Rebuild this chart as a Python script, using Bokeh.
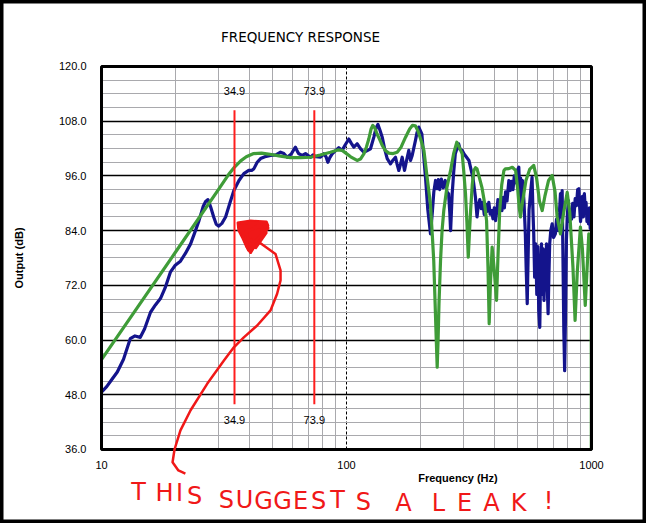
from bokeh.plotting import figure
from bokeh.models import (Range1d, FixedTicker, NumeralTickFormatter, Label, LogAxis,
                          LinearAxis, Grid)
from bokeh.core.properties import value
from bokeh.embed import file_html
from bokeh.resources import INLINE

# ---------------- data ----------------
blue_freq = [10.0, 10.5, 11.0, 11.6, 12.3, 13.1, 13.7, 14.4, 15.0, 15.85, 16.6, 17.4, 18.2, 19.1, 20.0,
             21.0, 22.0, 23.1, 24.0, 25.0, 26.0, 26.6, 27.2, 27.9, 28.7, 29.4, 30.1, 31.0, 32.1, 33.4,
             34.7, 36.4, 38.1, 39.9, 41.0, 41.9, 43.2, 44.6, 47.0, 49.0, 51.5, 53.8, 55.5, 57.3, 59.5,
             61.0, 61.9, 63.0, 63.9, 66.0, 68.0, 71.3, 73.0, 75.0, 78.3, 80.8, 82.5, 83.9, 85.5, 87.4,
             90.0, 93.0, 96.0, 99.0, 102.2, 104.5, 107.1, 110.5, 114.0, 117.7, 121.0, 125.3, 129.3, 132.0,
             134.3, 137.0, 139.9, 143.0, 146.6, 151.2, 155.0, 158.5, 161.0, 163.5, 166.0, 168.8, 172.5,
             176.0, 179.6, 182.5, 185.4, 188.0, 191.2, 194.0, 197.2, 203.0, 206.5, 210.1, 214.7, 220.2,
             224.0, 227.2, 230.9, 234.0, 237.0, 240.0, 244.0, 248.0, 253.0, 257.0, 261.0, 264.0, 266.0,
             268.0, 270.0, 274.0, 278.0, 283.0, 287.0, 291.0, 296.7, 302.0, 308.0, 316.0, 322.0, 328.0,
             336.0, 341.0, 345.0, 350.0, 355.0, 360.0, 365.0, 370.0, 375.0, 381.0, 386.0, 391.0, 396.0,
             401.0, 406.0, 411.0, 415.0, 420.0, 425.0, 431.0, 436.0, 441.0, 446.0, 452.0, 460.0, 466.0,
             472.0, 478.0, 484.0, 490.0, 496.0, 505.0, 510.0, 514.0, 518.0, 523.0, 530.0, 537.0, 541.0,
             546.6, 551.0, 556.0, 565.0, 572.0, 577.0, 581.0, 586.0, 592.0, 598.0, 604.0, 609.0, 615.0,
             620.0, 625.0, 630.0, 635.0, 640.0, 645.0, 650.0, 655.0, 661.0, 665.0, 670.0, 675.0, 682.0,
             691.0, 700.0, 712.0, 720.0, 730.0, 740.0, 747.0, 753.0, 759.0, 764.0, 771.0, 777.0, 783.0,
             790.0, 796.0, 805.0, 812.0, 820.0, 829.0, 838.0, 848.0, 858.0, 868.0, 878.0, 888.0, 895.0,
             902.0, 910.0, 918.0, 926.0, 935.0, 943.0, 950.0, 958.0, 965.0, 972.0, 980.0, 988.0, 995.0,
             1000.0]
blue_db = [48.6, 49.8, 51.3, 53.0, 55.8, 60.3, 60.9, 60.6, 62.5, 66.1, 67.7, 69.1, 71.5, 74.9, 76.4,
           77.3, 79.0, 81.1, 83.5, 86.2, 89.3, 90.4, 90.8, 89.2, 87.0, 85.4, 85.0, 85.6, 87.0, 90.0,
           92.8, 95.0, 96.5, 97.2, 97.2, 97.6, 99.0, 99.8, 100.3, 100.5, 100.6, 101.2, 100.9, 100.1, 100.8,
           101.8, 102.3, 101.4, 100.85, 100.5, 100.9, 100.1, 100.6, 100.2, 100.1, 100.85, 100.2, 99.0, 100.0, 100.85,
           101.5, 102.2, 101.6, 102.9, 104.1, 103.2, 102.3, 103.05, 102.0, 101.2, 101.5, 101.95, 104.5, 106.5,
           107.3, 106.0, 104.5, 102.0, 99.8, 98.65, 99.5, 100.1, 98.5, 97.2, 98.5, 100.1, 97.2,
           99.5, 101.6, 99.4, 100.5, 102.0, 103.8, 105.5, 106.7, 105.2, 100.5, 95.7, 88.6, 83.3,
           88.0, 92.5, 95.0, 93.2, 95.2, 93.0, 95.3, 93.4, 95.0, 92.5, 92.1, 88.0, 84.0,
           88.0, 92.1, 97.0, 100.85, 102.2, 103.05, 101.8, 101.6, 100.8, 100.2, 99.4, 97.5, 95.7,
           91.3, 87.0, 89.5, 90.8, 88.8, 90.2, 87.5, 89.8, 88.2, 90.2, 87.6, 88.4, 86.6,
           89.0, 86.2, 88.5, 90.8, 88.4, 90.5, 88.4, 91.3, 89.0, 92.5, 90.5, 95.0, 92.8,
           94.8, 93.0, 96.0, 94.5, 97.0, 97.9, 91.0, 95.5, 89.9, 95.0, 90.5, 83.3, 76.0,
           68.0, 78.0, 88.5, 92.8, 95.7, 88.0, 83.3, 73.8, 81.1, 70.0, 80.5, 66.5, 62.8,
           75.0, 81.1, 70.0, 80.0, 68.7, 79.0, 71.0, 81.1, 70.5, 65.8, 74.0, 81.1, 84.0,
           85.5, 82.5, 83.3, 86.5, 84.0, 88.0, 92.1, 87.0, 92.8, 80.0, 62.0, 53.3, 65.0,
           82.0, 87.0, 90.6, 86.0, 88.5, 86.5, 90.0, 87.0, 91.0, 89.5, 93.0, 93.2, 89.0,
           86.0, 88.4, 91.5, 87.0, 92.1, 89.0, 90.2, 86.0, 88.0, 85.5, 89.0, 84.5, 87.0,
           86.0]

green_freq = [10.0, 20.0, 30.0, 33.0, 35.0, 37.0, 39.0, 41.8, 45.0, 48.0, 53.0, 59.0, 65.0, 71.3, 78.0,
              86.0, 92.0, 96.0, 100.0, 104.0, 110.5, 114.0, 117.7, 120.5, 123.3, 126.0, 128.1, 130.5,
              133.3, 136.5, 139.9, 144.0, 148.9, 155.0, 161.0, 167.0, 174.2, 181.0, 186.0, 191.0, 196.0,
              201.0, 207.0, 213.0, 220.0, 224.0, 227.0, 230.0, 232.5, 234.5, 236.5, 238.5, 242.0, 245.5,
              249.5, 257.0, 266.0, 274.0, 282.0, 289.0, 296.7, 301.0, 306.0, 310.0, 314.0, 317.5, 321.0,
              326.0, 331.0, 336.0, 341.0, 349.0, 357.0, 365.0, 373.0, 378.0, 382.3, 386.5, 393.0, 400.0,
              409.5, 415.0, 422.0, 430.0, 439.0, 445.0, 460.0, 475.0, 490.0, 500.0, 507.0, 513.0, 522.0,
              540.0, 560.0, 581.0, 597.0, 613.0, 629.0, 645.0, 668.0, 691.0, 710.0, 724.0, 747.0, 770.0,
              796.0, 815.0, 840.0, 857.0, 875.0, 901.0, 918.0, 943.0, 960.0, 975.0, 990.0, 997.0, 998.5]
green_db = [55.7, 79.2, 93.0, 96.3, 98.0, 99.3, 100.2, 100.9, 101.0, 100.8, 100.4, 100.0, 100.0, 100.1, 100.6,
            101.2, 101.7, 101.6, 100.9, 100.2, 99.4, 99.7, 100.85, 102.3, 104.1, 106.3, 107.1, 106.5,
            105.2, 104.0, 102.7, 101.6, 101.0, 100.9, 101.2, 102.3, 104.5, 106.3, 107.1, 107.0, 105.8,
            104.0, 101.6, 96.0, 89.9, 83.0, 77.45, 68.0, 60.0, 54.05, 60.0, 68.0, 77.45, 84.0,
            88.4, 93.5, 97.2, 101.0, 103.4, 102.2, 100.85, 97.0, 92.1, 86.0, 78.2, 83.5, 88.4,
            94.0, 97.2, 97.8, 97.55, 95.5, 93.5, 90.5, 86.2, 76.0, 63.6, 72.0, 80.4, 76.0,
            68.7, 78.0, 88.4, 94.0, 97.2, 97.55, 97.6, 97.9, 97.2, 93.0, 89.0, 87.0, 90.0,
            95.0, 97.5, 98.3, 95.5, 90.5, 88.4, 91.5, 95.0, 96.1, 92.5, 87.0, 83.3, 88.0,
            92.4, 88.0, 76.0, 64.3, 75.0, 84.8, 80.0, 67.6, 76.0, 83.3, 82.5, 80.0, 36.0]

marker_freqs = [34.9, 73.9]
marker_texts = ["34.9", "73.9"]

y_ticks = [36, 48, 60, 72, 84, 96, 108, 120]
y_minor = [v for v in range(39, 120, 3) if v % 12 != 0]
x_ticks = [10, 100, 1000]
x_minor = [20, 30, 40, 50, 60, 70, 80, 90, 200, 300, 400, 500, 600, 700, 800, 900]

# hand-drawn annotation (freq, dB)
blob_freq = [35.9, 40.6, 47.2, 48.0, 45.4, 42.5, 40.6, 39.1, 37.6, 36.2]
blob_db = [85.8, 86.2, 86.0, 85.1, 82.9, 80.75, 79.0, 80.3, 82.3, 84.0]
scrib_freq = [36.9, 46.7, 48.0, 40.6, 38.7, 45.4, 44.6, 39.8, 37.6, 43.7, 47.2, 42.5, 40.6]
scrib_db = [85.6, 85.8, 84.5, 80.75, 84.0, 84.9, 81.85, 79.6, 82.9, 85.35, 83.6, 80.1, 82.3]
curve_freq = [43.85, 51.3, 53.8, 53.8, 52.1, 48.96, 43.2, 38.1, 34.7, 31.6, 27.0, 23.1, 21.0,
              19.86, 19.5, 20.6, 22.0]
curve_db = [81.5, 78.9, 75.3, 73.1, 70.15, 66.5, 63.2, 60.6, 58.4, 55.5, 50.4, 44.6, 40.2,
            36.0, 33.2, 31.4, 30.7]

note_letters = ["T", "H", "I", "S", "S", "U", "G", "G", "E", "S", "T", "S",
                "A", "L", "E", "A", "K", "!"]
note_freqs = [14.16, 18.07, 20.82, 23.97, 32.37, 38.34, 45.84, 54.81, 64.91, 76.87, 91.9, 117.3,
              170.9, 237.5, 303.1, 390.8, 503.6, 667.5]
note_db = [26.6, 26.35, 26.35, 25.9, 25.0, 25.0, 24.8, 24.8, 24.8, 24.8, 25.0, 24.4,
           24.2, 24.2, 24.2, 24.2, 24.2, 24.8]

# ---------------- figure (frame covers the whole canvas) ----------------
x_lo, x_hi = 3.8703, 1676.8
y_lo, y_hi = 19.77, 134.475

p = figure(width=646, height=523, x_axis_type="log",
           x_range=Range1d(x_lo, x_hi), y_range=Range1d(y_lo, y_hi),
           x_axis_location=None, y_axis_location=None,
           output_backend="svg", toolbar_location=None, title=None,
           min_border=0, min_border_left=0, min_border_right=0,
           min_border_top=0, min_border_bottom=0)
p.xgrid.visible = False
p.ygrid.visible = False
p.background_fill_color = "white"
p.border_fill_color = "white"
p.outline_line_color = "black"
p.outline_line_width = 6

xt = FixedTicker(ticks=x_ticks, minor_ticks=x_minor)
yt = FixedTicker(ticks=y_ticks, minor_ticks=y_minor)

gx = Grid(dimension=0, ticker=xt, bounds=(10, 1000), cross_bounds=(36, 120),
          grid_line_color="black", grid_line_dash="3 2", grid_line_width=1,
          minor_grid_line_color="#a9a9ad", minor_grid_line_width=1)
gy = Grid(dimension=1, ticker=yt, bounds=(36, 120), cross_bounds=(10, 1000),
          grid_line_color="black", grid_line_width=1.6,
          minor_grid_line_color="#a9a9ad", minor_grid_line_width=1)
p.add_layout(gx)
p.add_layout(gy)

xaxis = LogAxis(fixed_location=36, ticker=xt, bounds=(10, 1000),
                formatter=NumeralTickFormatter(format="0"))
yaxis = LinearAxis(fixed_location=10, ticker=yt, bounds=(36, 120),
                   formatter=NumeralTickFormatter(format="0.0"),
                   axis_label="Output (dB)")
for ax in (xaxis, yaxis):
    ax.axis_line_color = None
    ax.major_tick_line_color = None
    ax.minor_tick_line_color = None
    ax.major_label_text_font = "Liberation Sans"
    ax.major_label_text_font_size = "11px"
    ax.major_label_text_color = "black"
xaxis.major_label_standoff = 6
yaxis.major_label_standoff = 9
yaxis.axis_label_text_font = "Liberation Sans"
yaxis.axis_label_text_font_style = "bold"
yaxis.axis_label_text_font_size = "11px"
yaxis.axis_label_text_color = "black"
yaxis.axis_label_standoff = 31
p.add_layout(xaxis, "below")
p.add_layout(yaxis, "left")

# curves
p.line(blue_freq, blue_db, line_color="#14148c", line_width=3.2, line_join="round")
p.line(green_freq, green_db, line_color="#3f9c38", line_width=3.2, line_join="round")

# plot-area border
p.quad(left=[10], right=[1000], bottom=[36], top=[120], fill_color=None,
       line_color="black", line_width=3)

# markers
p.segment(x0=marker_freqs, y0=[110.4] * 2, x1=marker_freqs, y1=[45.9] * 2,
          line_color="#ff1e1e", line_width=2)
p.text(x=marker_freqs + marker_freqs, y=[114.7, 114.7, 42.4, 42.4],
       text=marker_texts + marker_texts, text_align="center", text_baseline="middle",
       text_font=value("Liberation Sans"), text_font_size="11px", text_color="black")

# hand-drawn annotation
red = "#f01818"
p.patch(blob_freq, blob_db, fill_color=red, line_color=red, line_width=2)
p.line(scrib_freq, scrib_db, line_color=red, line_width=2.5)
p.line(curve_freq, curve_db, line_color=red, line_width=2.5, line_join="round")
p.text(x=note_freqs, y=note_db, text=note_letters, text_align="center", text_baseline="middle",
       text_font=value("DejaVu Sans"), text_font_size="24px", text_color=red)

p.add_layout(Label(x=64.91, y=126.43, text="FREQUENCY RESPONSE", text_align="center",
                   text_baseline="middle", text_font="DejaVu Sans", text_font_size="13.5px",
                   text_color="black"))
p.add_layout(Label(x=285.1, y=29.64, text="Frequency (Hz)", text_align="center",
                   text_baseline="middle", text_font="Liberation Sans", text_font_size="11px",
                   text_font_style="bold", text_color="black"))

open("out.html", "w").write(file_html(p, INLINE))
